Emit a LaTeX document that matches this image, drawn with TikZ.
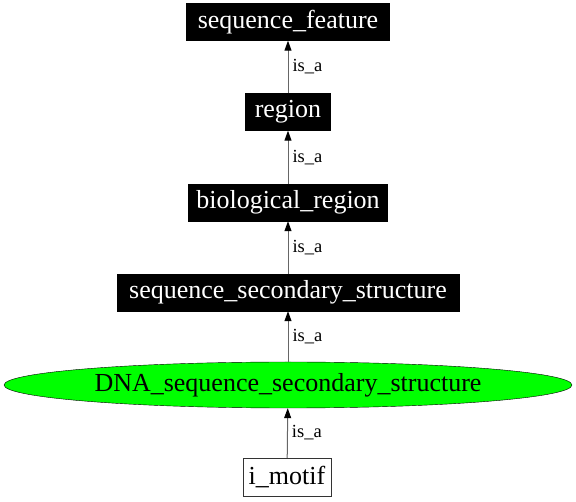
\documentclass[tikz,border=0pt]{standalone}
\usepackage{fontspec}
\setmainfont{Liberation Serif}
\usetikzlibrary{arrows.meta,shapes.geometric}
\begin{document}
\begin{tikzpicture}[x=1pt,y=1pt,
  blackbox/.style={draw=black,fill=black,text=white,font=\fontsize{26}{30}\selectfont,minimum height=37pt,inner sep=0pt,anchor=center},
  whitebox/.style={draw=black!80,fill=white,text=black,font=\fontsize{26}{30}\selectfont,minimum height=38pt,inner sep=0pt},
  greenell/.style={ellipse,draw=black,fill=green,font=\fontsize{26}{30}\selectfont,minimum width=568pt,minimum height=46pt,inner sep=0pt},
  isa/.style={draw=black!60,line width=1pt,-{Triangle[length=10pt,width=7pt,fill=black,color=black]}},
  lbl/.style={font=\fontsize{18.5}{21}\selectfont,anchor=west,inner sep=0pt}]
\useasboundingbox (0,0) rectangle (576,-502);
\node[blackbox,minimum width=203pt] (sf) at (288,-22) {sequence\_feature};
\node[blackbox,minimum width=85pt] (reg) at (288,-112) {region};
\node[blackbox,minimum width=199pt] (bio) at (288,-202.5) {biological\_region};
\node[blackbox,minimum width=342pt] (ss) at (288,-292.5) {sequence\_secondary\_structure};
\node[greenell] (dna) at (288,-385) {DNA\_sequence\_secondary\_structure};
\node[whitebox,minimum width=88pt] (im) at (287,-477) {i\_motif};
\draw[isa] (reg) -- (sf) node[lbl,pos=0.5,xshift=4pt] {is\_a};
\draw[isa] (bio) -- (reg) node[lbl,pos=0.5,xshift=4pt] {is\_a};
\draw[isa] (ss) -- (bio) node[lbl,pos=0.5,xshift=4pt] {is\_a};
\draw[isa] (dna) -- (ss) node[lbl,pos=0.5,xshift=4pt] {is\_a};
\draw[isa] (im) -- (dna) node[lbl,pos=0.5,xshift=4pt] {is\_a};
\end{tikzpicture}
\end{document}
